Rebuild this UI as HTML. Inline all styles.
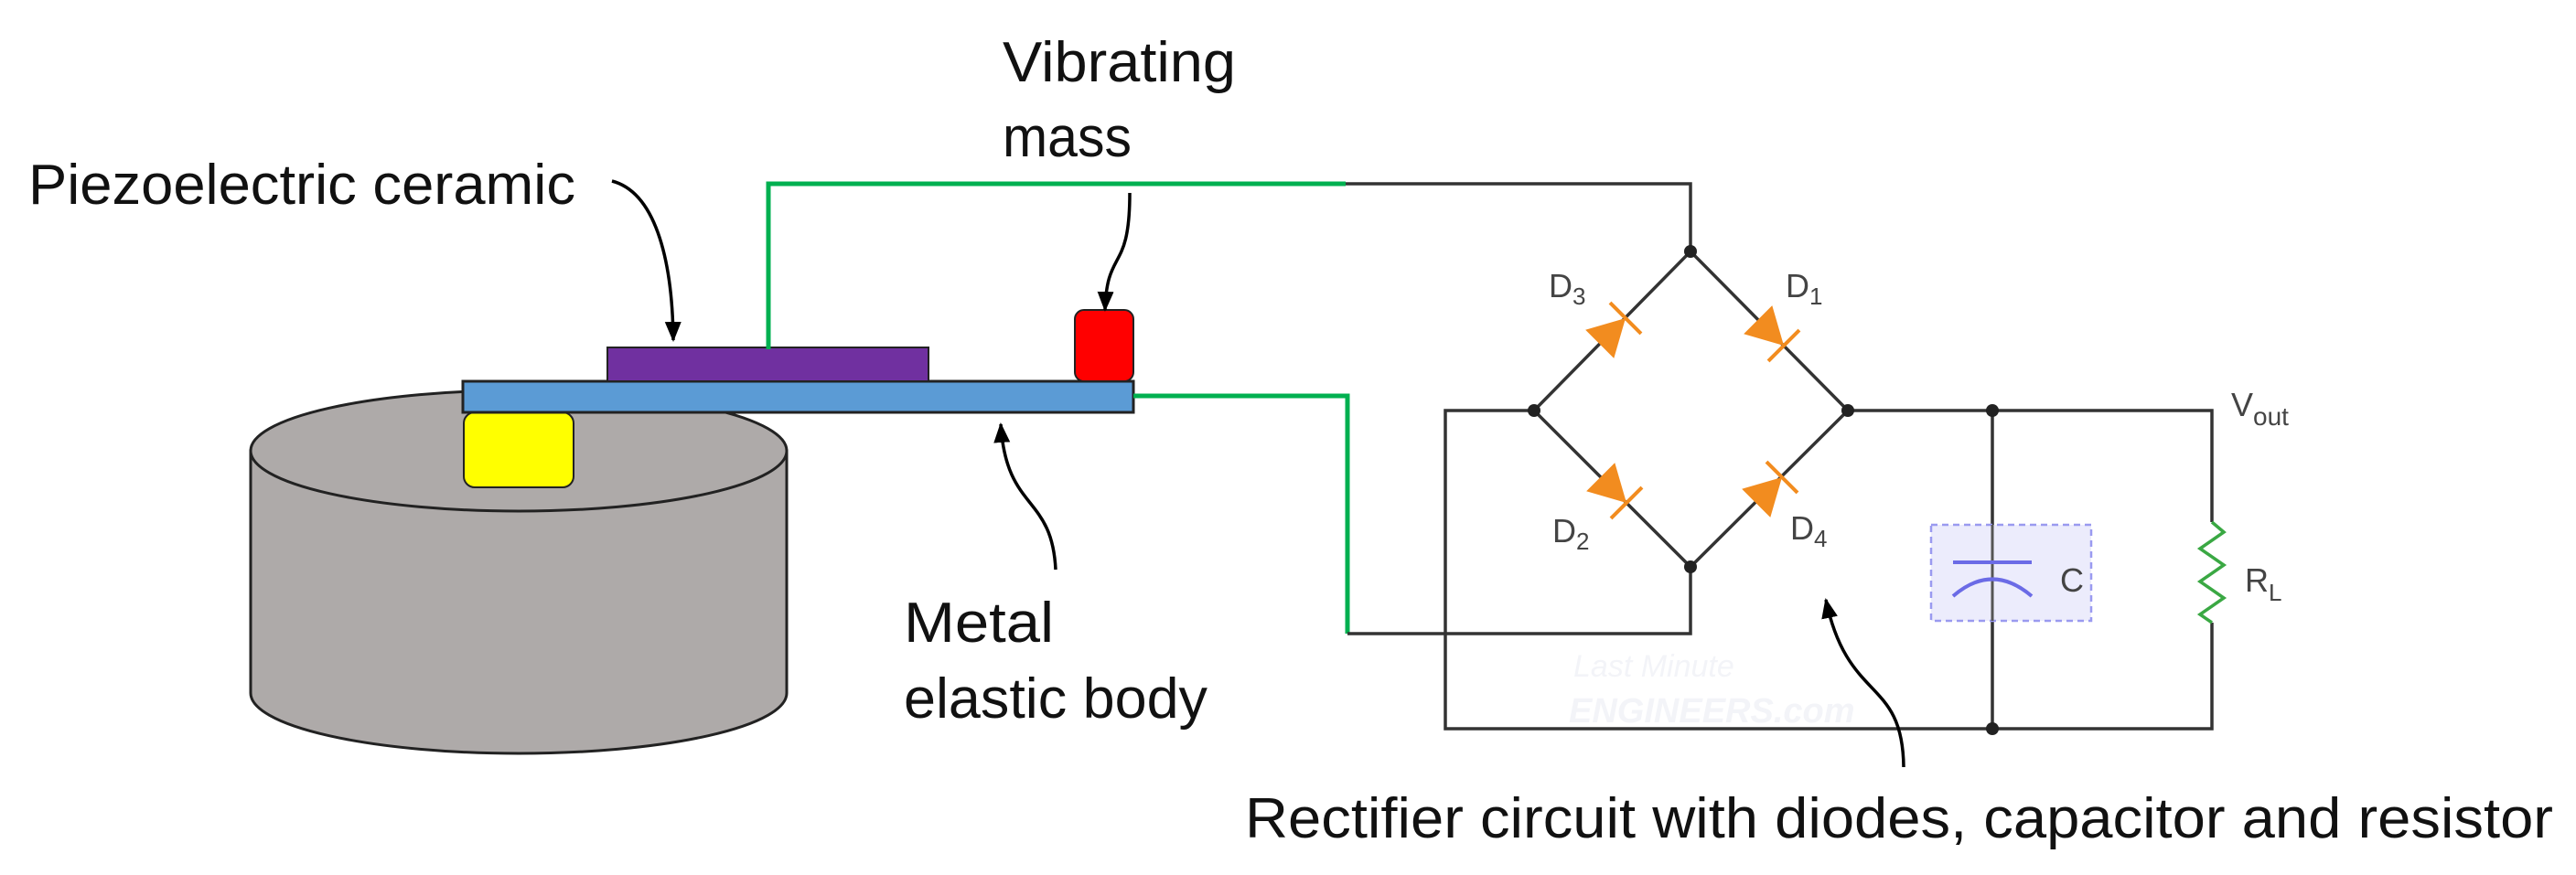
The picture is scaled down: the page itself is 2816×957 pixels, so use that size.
<!DOCTYPE html>
<html><head><meta charset="utf-8"><style>
html,body{margin:0;padding:0;background:#fff;}
svg{display:block;}
text{font-family:"Liberation Sans",sans-serif;fill:#111;}
</style></head><body>
<svg width="2816" height="957" viewBox="0 0 2816 957" xmlns="http://www.w3.org/2000/svg">
<defs>
<marker id="ah" markerWidth="24" markerHeight="24" refX="20" refY="12" orient="auto" markerUnits="userSpaceOnUse" viewBox="0 0 24 24">
<path d="M0,3 L22,12 L0,21 z" fill="#000"/></marker>
<g id="diode"><polygon points="-40,-22 -40,22 0,0" fill="#f28c1f"/><line x1="0" y1="-24" x2="0" y2="24" stroke="#f28c1f" stroke-width="4"/></g>
</defs>
<rect width="2816" height="957" fill="#fff"/>

<path d="M274,493 L274,758 A293,66 0 0 0 860,758 L860,493 Z" fill="#aeaaa9" stroke="#222" stroke-width="3"/>
<ellipse cx="567" cy="493" rx="293" ry="66" fill="#aeaaa9" stroke="#222" stroke-width="3"/>
<rect x="507" y="451" width="120" height="82" rx="12" fill="#ffff00" stroke="#222" stroke-width="2"/>
<rect x="506" y="417" width="733" height="34" fill="#5b9bd5" stroke="#222" stroke-width="3"/>
<rect x="664" y="380" width="351" height="37" fill="#7030a0" stroke="#222" stroke-width="2"/>
<rect x="1175" y="339" width="64" height="78" rx="10" fill="#ff0000" stroke="#222" stroke-width="2"/>

<polyline points="840,382 840,201 1471,201" fill="none" stroke="#00b050" stroke-width="5"/>
<polyline points="1239,433 1473,433 1473,693" fill="none" stroke="#00b050" stroke-width="5"/>

<g stroke="#333" stroke-width="3.5" fill="none">
<polyline points="1471,201 1848,201 1848,275"/>
<polyline points="1473,693 1848,693 1848,620"/>
<polygon points="1848,275 2020,449 1848,620 1677,449"/>
<polyline points="1677,449 1580,449 1580,797 2418,797 2418,681"/>
<polyline points="2020,449 2418,449 2418,571"/>
<line x1="2178" y1="449" x2="2178" y2="797"/>
</g>
<g fill="#222">
<circle cx="1848" cy="275" r="7"/><circle cx="1677" cy="449" r="7"/><circle cx="2020" cy="449" r="7"/><circle cx="1848" cy="620" r="7"/>
<circle cx="2178" cy="449" r="7"/><circle cx="2178" cy="797" r="7"/>
</g>

<use href="#diode" transform="translate(1777,348) rotate(-45)"/>
<use href="#diode" transform="translate(1950,378) rotate(45)"/>
<use href="#diode" transform="translate(1778,550) rotate(45)"/>
<use href="#diode" transform="translate(1948,522) rotate(-45)"/>

<rect x="2111" y="574" width="175" height="105" fill="#ececfc" stroke="#9a9af0" stroke-width="2.5" stroke-dasharray="7,5"/>
<line x1="2178" y1="574" x2="2178" y2="679" stroke="#555" stroke-width="3"/>
<line x1="2135" y1="615" x2="2221" y2="615" stroke="#6b6be6" stroke-width="4"/>
<path d="M2135,652 Q2178,615 2221,652" fill="none" stroke="#6b6be6" stroke-width="4"/>
<polyline points="2418,571 2431,582 2405,600 2431,618 2405,636 2431,654 2405,672 2418,681" fill="none" stroke="#3aa843" stroke-width="3.5"/>

<g font-size="36">
<text x="1693" y="325" style="fill:#444">D<tspan font-size="26" dy="8">3</tspan></text>
<text x="1952" y="325" style="fill:#444">D<tspan font-size="26" dy="8">1</tspan></text>
<text x="1697" y="593" style="fill:#444">D<tspan font-size="26" dy="8">2</tspan></text>
<text x="1957" y="590" style="fill:#444">D<tspan font-size="26" dy="8">4</tspan></text>
<text x="2439" y="455" style="fill:#444">V<tspan font-size="28" dy="10">out</tspan></text>
<text x="2454" y="647" style="fill:#444">R<tspan font-size="26" dy="10">L</tspan></text>
<text x="2252" y="647" style="fill:#444">C</text>
</g>
<text x="1720" y="740" font-size="34" font-style="italic" style="fill:#f3f4f8">Last Minute</text>
<text x="1715" y="790" font-size="38" font-style="italic" font-weight="bold" style="fill:#f3f4f8">ENGINEERS.com</text>

<g fill="none" stroke="#000" stroke-width="3.5">
<path d="M669,198 C715,210 735,280 736,372" marker-end="url(#ah)"/>
<path d="M1235,211 C1235,300 1210,270 1208,339" marker-end="url(#ah)"/>
<path d="M1154,623 C1150,540 1100,560 1094,464" marker-end="url(#ah)"/>
<path d="M2081,839 C2080,740 2020,770 1996,656" marker-end="url(#ah)"/>
</g>

<g font-size="62">
<text x="31" y="223" textLength="598" lengthAdjust="spacingAndGlyphs">Piezoelectric ceramic</text>
<text x="1096" y="89" textLength="255" lengthAdjust="spacingAndGlyphs">Vibrating</text>
<text x="1096" y="171" textLength="141" lengthAdjust="spacingAndGlyphs">mass</text>
<text x="988" y="702" textLength="164" lengthAdjust="spacingAndGlyphs">Metal</text>
<text x="988" y="785" textLength="332" lengthAdjust="spacingAndGlyphs">elastic body</text>
<text x="1361" y="916" textLength="1430" lengthAdjust="spacingAndGlyphs">Rectifier circuit with diodes, capacitor and resistor</text>
</g>
</svg>
</body></html>
